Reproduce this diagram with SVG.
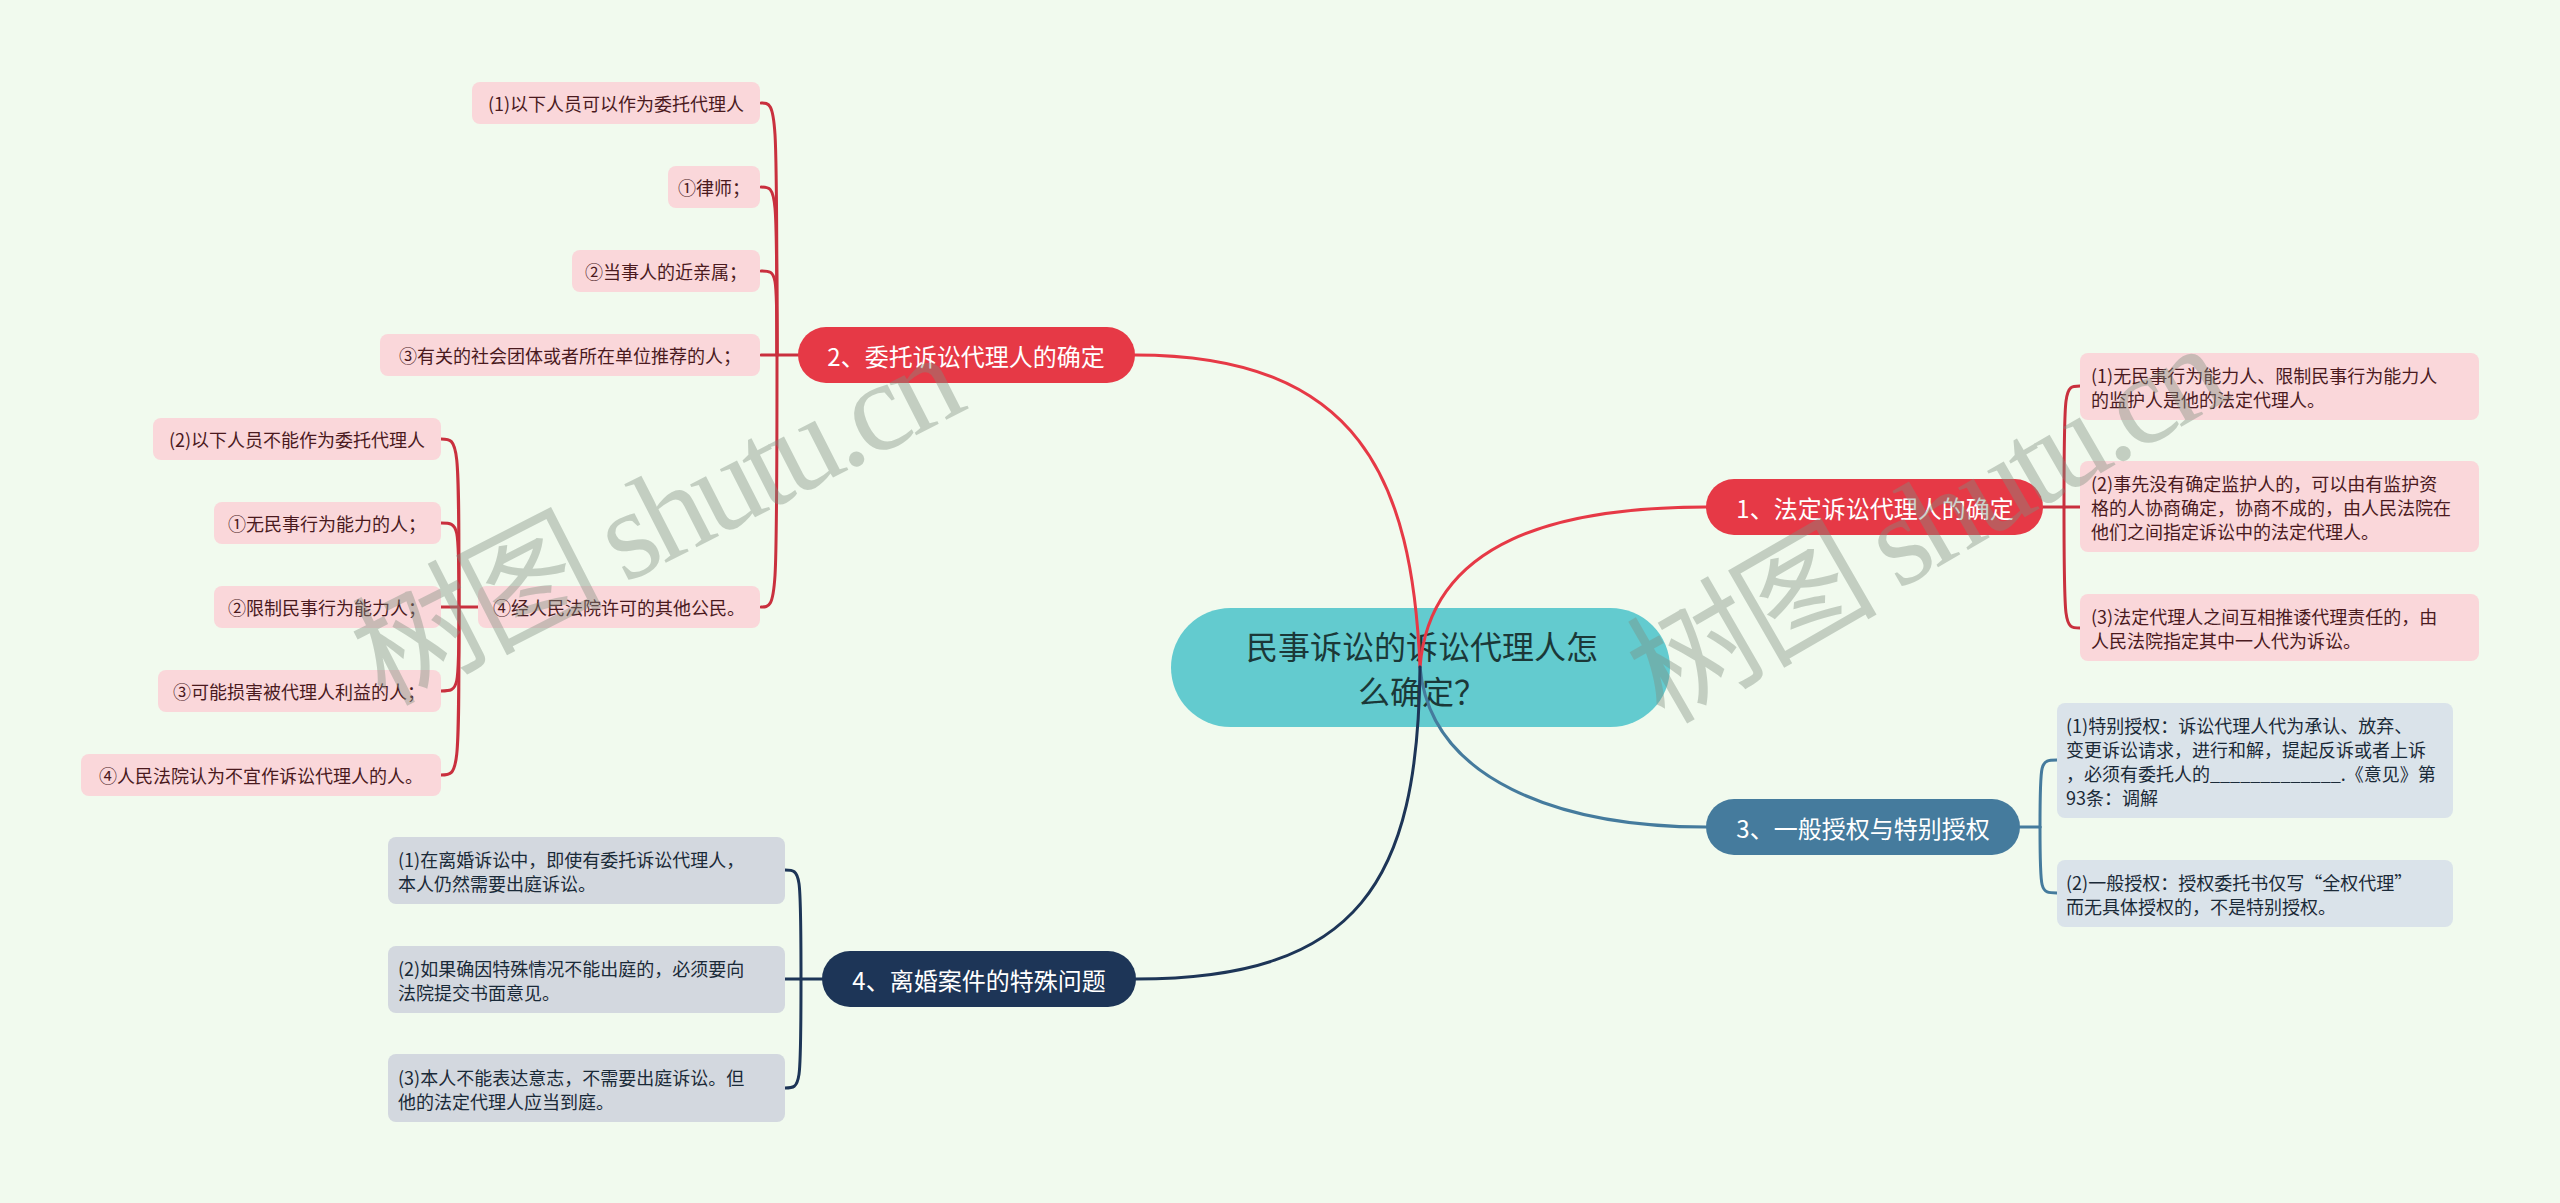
<svg xmlns="http://www.w3.org/2000/svg" width="2560" height="1203" viewBox="0 0 2560 1203">
<style>
text{font-family:"Noto Sans CJK SC","Noto Sans",sans-serif;dominant-baseline:central}
.bg{fill:#F1FAEE}
.center rect{fill:#63CBCF}
.center text{font-size:32px;fill:#1B3838;text-anchor:middle}
.red rect{fill:#E63946}
.blue rect{fill:#457B9D}
.navy rect{fill:#1D3557}
.main text{font-size:24px;fill:#FFFFFF;text-anchor:middle}
.pink rect{fill:#FAD7DA}
.pink text{font-size:18px;fill:#4A1A1E}
.lb rect{fill:#DAE3EA}
.gr rect{fill:#D3D8DF}
.lb text,.gr text{font-size:18px;fill:#1A2A38}
.mid{text-anchor:middle}
.c{fill:none;stroke-width:3;stroke-linecap:round}
.cr{stroke:#E63946}
.cd{stroke:#C9303E}
.cb{stroke:#457B9D}
.cn{stroke:#1D3557}
.wm{font-family:"Liberation Serif","Noto Sans CJK SC",serif;font-size:128px;letter-spacing:-6px;fill:#7F8F80;opacity:0.4;text-anchor:middle}
</style>
<rect class="bg" x="0" y="0" width="2560" height="1203"/>

<g id="center" class="center">
<rect x="1171" y="608" width="499" height="119" rx="59.5"/>
<text x="1422" y="645">民事诉讼的诉讼代理人怎</text>
<text x="1422" y="690">么确定？</text>
</g>

<g id="connectors">
<path class="c cr" d="M1135,355 C1360,355 1412,480 1420,667"/>
<path class="c cr" d="M1420,667 C1430,540 1560,507 1706,507"/>
<path class="c cb" d="M1420,667 C1430,780 1560,827 1706,827"/>
<path class="c cn" d="M1420,667 C1418,880 1360,979 1136,979"/>
<path class="c cd" d="M798,355 L777,355"/>
<path class="c cd" d="M777,355 C777,103 777,103 761,103"/>
<path class="c cd" d="M777,355 C777,187 777,187 761,187"/>
<path class="c cd" d="M777,355 C777,271 777,271 761,271"/>
<path class="c cd" d="M777,355 L761,355"/>
<path class="c cd" d="M777,355 C777,607 777,607 761,607"/>
<path class="c cd" d="M478,607 L459,607"/>
<path class="c cd" d="M459,607 C459,439 459,439 441,439"/>
<path class="c cd" d="M459,607 C459,523 459,523 441,523"/>
<path class="c cd" d="M459,607 L441,607"/>
<path class="c cd" d="M459,607 C459,691 459,691 441,691"/>
<path class="c cd" d="M459,607 C459,775 459,775 441,775"/>
<path class="c cd" d="M2043,507 L2064,507"/>
<path class="c cd" d="M2064,507 C2064,386 2064,386 2080,386"/>
<path class="c cd" d="M2064,507 L2080,507"/>
<path class="c cd" d="M2064,507 C2064,628 2064,628 2080,628"/>
<path class="c cb" d="M2020,827 L2040,827"/>
<path class="c cb" d="M2040,827 C2040,760 2040,760 2057,760"/>
<path class="c cb" d="M2040,827 C2040,893 2040,893 2057,893"/>
<path class="c cn" d="M822,979 L801,979"/>
<path class="c cn" d="M801,979 C801,870 801,870 785,870"/>
<path class="c cn" d="M801,979 L785,979"/>
<path class="c cn" d="M801,979 C801,1088 801,1088 785,1088"/>
</g>

<g id="b1" class="main red">
<rect x="1706" y="479" width="337" height="56" rx="28"/>
<text x="1875" y="507">1、法定诉讼代理人的确定</text>
</g>
<g id="b2" class="main red">
<rect x="798" y="327" width="337" height="56" rx="28"/>
<text x="966" y="355">2、委托诉讼代理人的确定</text>
</g>
<g id="b3" class="main blue">
<rect x="1706" y="799" width="314" height="56" rx="28"/>
<text x="1863" y="827">3、一般授权与特别授权</text>
</g>
<g id="b4" class="main navy">
<rect x="822" y="951" width="314" height="56" rx="28"/>
<text x="979" y="979">4、离婚案件的特殊问题</text>
</g>

<g id="b1c1" class="pink">
<rect x="2080" y="353" width="399" height="67" rx="8"/>
<text x="2091" y="375">(1)无民事行为能力人、限制民事行为能力人</text>
<text x="2091" y="399">的监护人是他的法定代理人。</text>
</g>
<g id="b1c2" class="pink">
<rect x="2080" y="461" width="399" height="91" rx="8"/>
<text x="2091" y="483">(2)事先没有确定监护人的，可以由有监护资</text>
<text x="2091" y="507">格的人协商确定，协商不成的，由人民法院在</text>
<text x="2091" y="531">他们之间指定诉讼中的法定代理人。</text>
</g>
<g id="b1c3" class="pink">
<rect x="2080" y="594" width="399" height="67" rx="8"/>
<text x="2091" y="616">(3)法定代理人之间互相推诿代理责任的，由</text>
<text x="2091" y="640">人民法院指定其中一人代为诉讼。</text>
</g>

<g id="b2c1" class="pink">
<rect x="472" y="82" width="288" height="42" rx="8"/>
<text class="mid" x="616" y="103">(1)以下人员可以作为委托代理人</text>
</g>
<g id="b2c2" class="pink">
<rect x="668" y="166" width="92" height="42" rx="8"/>
<text class="mid" x="714" y="187">①律师；</text>
</g>
<g id="b2c3" class="pink">
<rect x="572" y="250" width="188" height="42" rx="8"/>
<text class="mid" x="666" y="271">②当事人的近亲属；</text>
</g>
<g id="b2c4" class="pink">
<rect x="380" y="334" width="380" height="42" rx="8"/>
<text class="mid" x="570" y="355">③有关的社会团体或者所在单位推荐的人；</text>
</g>
<g id="b2c5" class="pink">
<rect x="478" y="586" width="282" height="42" rx="8"/>
<text class="mid" x="619" y="607">④经人民法院许可的其他公民。</text>
</g>

<g id="s1" class="pink">
<rect x="153" y="418" width="288" height="42" rx="8"/>
<text class="mid" x="297" y="439">(2)以下人员不能作为委托代理人</text>
</g>
<g id="s2" class="pink">
<rect x="214" y="502" width="227" height="42" rx="8"/>
<text class="mid" x="327" y="523">①无民事行为能力的人；</text>
</g>
<g id="s3" class="pink">
<rect x="214" y="586" width="227" height="42" rx="8"/>
<text class="mid" x="327" y="607">②限制民事行为能力人；</text>
</g>
<g id="s4" class="pink">
<rect x="158" y="670" width="283" height="42" rx="8"/>
<text class="mid" x="299" y="691">③可能损害被代理人利益的人；</text>
</g>
<g id="s5" class="pink">
<rect x="81" y="754" width="360" height="42" rx="8"/>
<text class="mid" x="261" y="775">④人民法院认为不宜作诉讼代理人的人。</text>
</g>

<g id="b3c1" class="lb">
<rect x="2057" y="703" width="396" height="115" rx="8"/>
<text x="2066" y="725">(1)特别授权：诉讼代理人代为承认、放弃、</text>
<text x="2066" y="749">变更诉讼请求，进行和解，提起反诉或者上诉</text>
<text x="2066" y="773">，必须有委托人的_____________.《意见》第</text>
<text x="2066" y="797">93条：调解</text>
</g>
<g id="b3c2" class="lb">
<rect x="2057" y="860" width="396" height="67" rx="8"/>
<text x="2066" y="882">(2)一般授权：授权委托书仅写“全权代理”</text>
<text x="2066" y="906">而无具体授权的，不是特别授权。</text>
</g>

<g id="b4c1" class="gr">
<rect x="388" y="837" width="397" height="67" rx="8"/>
<text x="398" y="859">(1)在离婚诉讼中，即使有委托诉讼代理人，</text>
<text x="398" y="883">本人仍然需要出庭诉讼。</text>
</g>
<g id="b4c2" class="gr">
<rect x="388" y="946" width="397" height="67" rx="8"/>
<text x="398" y="968">(2)如果确因特殊情况不能出庭的，必须要向</text>
<text x="398" y="992">法院提交书面意见。</text>
</g>
<g id="b4c3" class="gr">
<rect x="388" y="1054" width="397" height="68" rx="8"/>
<text x="398" y="1077">(3)本人不能表达意志，不需要出庭诉讼。但</text>
<text x="398" y="1101">他的法定代理人应当到庭。</text>
</g>

<text class="wm" x="655" y="520" transform="rotate(-27 655 520)">树图 shutu.cn</text>
<text class="wm" x="1925" y="525" transform="rotate(-30 1925 525)">树图 shutu.cn</text>
</svg>
